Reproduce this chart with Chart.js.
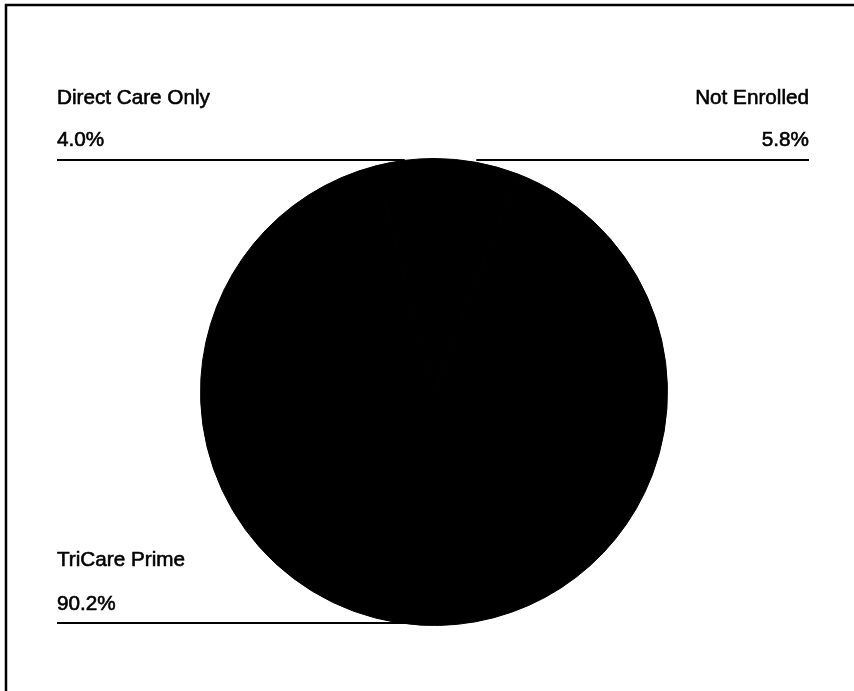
<!DOCTYPE html>
<html lang="en">
<head>
    <meta charset="UTF-8">
    <title>Enrollment</title>
    <script src="https://cdn.jsdelivr.net/npm/chart.js"></script>
    <style>
        html, body { margin:0; padding:0; background:#fff; overflow:hidden; }
        #wrap { width:854px; height:691px; position:relative; }
    </style>
</head>
<body>
    <div id="wrap">
        <canvas id="myChart" width="854" height="691"></canvas>
    </div>

    <script>
        // 데이터 (clockwise from 12 o'clock)
        const categories = ['Not Enrolled', 'TriCare Prime', 'Direct Care Only'];
        const shares = [5.8, 90.2, 4.0];
        const shareLabels = ['5.8%', '90.2%', '4.0%'];

        // where each label sits (layout only)
        const labelLayout = {
            'Not Enrolled':     { side:'right', x:809, nameY:104, valueY:146, lineY:160 },
            'Direct Care Only': { side:'left',  x:57,  nameY:104, valueY:146, lineY:160 },
            'TriCare Prime':    { side:'left',  x:57,  nameY:566, valueY:610, lineY:623 }
        };

        const framePlugin = {
            id:'frame',
            beforeDraw(chart){
                const c = chart.ctx;
                c.save();
                c.fillStyle = '#fff';
                c.fillRect(0, 0, chart.width, chart.height);
                c.strokeStyle = '#000';
                c.lineWidth = 2.5;
                c.strokeRect(6, 5, chart.width + 20, chart.height + 20);
                c.restore();
            }
        };

        const leaderPlugin = {
            id:'leaders',
            afterDatasetsDraw(chart){
                const c = chart.ctx;
                const meta = chart.getDatasetMeta(0);
                c.save();
                c.font = '20.7px "Liberation Sans", Arial, sans-serif';
                c.fillStyle = '#000';
                c.strokeStyle = '#000';
                meta.data.forEach((arc, i) => {
                    const p = arc.getProps(['x','y','startAngle','endAngle','outerRadius'], true);
                    const mid = (p.startAngle + p.endAngle) / 2;
                    const px = p.x + Math.cos(mid) * p.outerRadius;
                    const L = labelLayout[categories[i]];
                    c.textAlign = L.side === 'left' ? 'left' : 'right';
                    c.textBaseline = 'alphabetic';
                    // scanned text looks heavy: fill + thin stroke
                    c.lineWidth = 0.6;
                    c.fillText(categories[i], L.x, L.nameY);
                    c.strokeText(categories[i], L.x, L.nameY);
                    c.fillText(shareLabels[i], L.x, L.valueY);
                    c.strokeText(shareLabels[i], L.x, L.valueY);
                    c.lineWidth = 2;
                    c.beginPath();
                    c.moveTo(L.x, L.lineY);
                    c.lineTo(px, L.lineY);
                    c.stroke();
                });
                c.restore();
            }
        };

        const ctx = document.querySelector('#myChart').getContext('2d');
        const myChart = new Chart(ctx, {
            type:'pie',
            data:{
                labels:categories,
                datasets:[{
                    data:shares,
                    backgroundColor:'#000',
                    borderColor:'#000',
                    borderWidth:1
                }]
            },
            options:{
                responsive:false,
                animation:false,
                layout:{ padding:{ top:158, bottom:65, left:14, right:0 } },
                plugins:{
                    legend:{ display:false },
                    tooltip:{ enabled:false }
                }
            },
            plugins:[framePlugin, leaderPlugin]
        });
    </script>
</body>
</html>
